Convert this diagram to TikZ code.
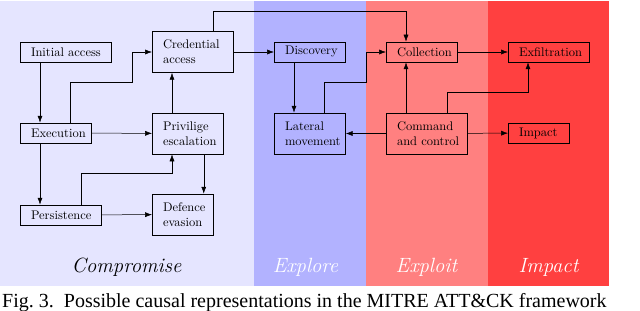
\documentclass[tikz,border=0pt]{standalone}
\usepackage{fontspec}
\newfontfamily\capfont{Liberation Serif}
\usetikzlibrary{arrows.meta,positioning,calc}

\begin{document}
\begin{tikzpicture}[x=0.8pt,y=-0.8pt,>={Latex[length=5.5pt,width=4pt]}, every node/.style={font=\normalsize}]
\tikzstyle{box}=[draw,line width=0.6pt,align=left,anchor=west,inner xsep=8.5pt,inner ysep=3pt,minimum height=16pt,execute at begin node={\hyphenpenalty=10000}]
\tikzstyle{tall}=[box,minimum height=32.8pt]
\tikzstyle{phase}=[font=\fontsize{16.5}{20}\selectfont\itshape,anchor=base]
\useasboundingbox (0,0) rectangle (640,311);
% phase backgrounds
\fill[blue!10] (0,1.5) rectangle (254,286);
\fill[blue!30] (254,1.5) rectangle (366,286);
\fill[red!50] (366,1.5) rectangle (488,286);
\fill[red!75] (488,1.5) rectangle (609,286);
% compromise
\node[box,text width=55.8pt] (init) at (20,52) {Initial~access};
\node[box,text width=39.8pt] (exec) at (20,133) {Execution};
\node[box,text width=47.8pt] (pers) at (20,215) {Persistence};
\node[tall,text width=47.8pt] (cred) at (152,52) {Credential\\access};
\node[tall,text width=39.8pt] (priv) at (152,133.5) {Privilige\\escalation};
\node[tall,text width=31.8pt] (def) at (152,214.5) {Defence\\evasion};
% explore
\node[box,text width=39.8pt] (disc) at (274,52) {Discovery};
\node[tall,text width=39.8pt] (lat) at (274,133.5) {Lateral\\movement};
% exploit
\node[box,text width=39.8pt] (coll) at (386,52) {Collection};
\node[tall,text width=47.8pt] (cc) at (386,133.5) {Command\\and~control};
% impact
\node[box,text width=47.8pt] (exfil) at (508,52) {Exfiltration};
\node[box,text width=31.8pt] (imp) at (508,133) {Impact};
% phase labels
\node[phase] (lcomp) at (126.5,272) {Compromise};
\node[phase,white] (lexpl) at (305.5,272) {Explore};
\node[phase,white] (lexpt) at (426.5,272) {Exploit};
\node[phase,white] (limp) at (548.5,272) {Impact};
% arrows
\draw[->] ([xshift=16pt]init.south west) -- ([xshift=16pt]exec.north west);
\draw[->] ([xshift=16pt]exec.south west) -- ([xshift=16pt]pers.north west);
\draw[->] (exec) -- (priv);
\draw[->] ([xshift=40pt]exec.north west) -- ++(0,-40) -| ([xshift=-16pt]cred.west) -- (cred);
\draw[->] ([xshift=48.8pt]pers.north west) -- ++(0,-31) -| ([xshift=16pt]priv.south west);
\draw[->] (pers) -- (def);
\draw[->] ([xshift=-16pt]priv.south east) -- ([xshift=-16pt]priv.south east |- def.north);
\draw[->] ([xshift=16pt]priv.north west) -- ([xshift=16pt]cred.south west);
\draw[->] (cred) -- (disc);
\draw[->] ([xshift=48.8pt]cred.north west) -- ++(0,-20) -| ([xshift=16pt]coll.north west);
\draw[->] ([xshift=16pt]disc.south west) -- ([xshift=16pt]lat.north west);
\draw[->] ([xshift=40pt]lat.north west) -- ++(0,-30) -| ([xshift=-16pt]coll.west) -- (coll);
\draw[->] (cc) -- (lat);
\draw[->] ([xshift=16pt]cc.north west) -- ([xshift=16pt]coll.south west);
\draw[->] ([xshift=48.8pt]cc.north west) -- ++(0,-20) -| ([xshift=16pt]exfil.south west);
\draw[->] (cc) -- (imp);
\draw[->] (coll) -- (exfil);
% caption
\node[font=\capfont\fontsize{16}{18}\selectfont,anchor=base west,inner sep=0pt] (cap) at (2,307) {Fig.~3.\enskip Possible causal representations in the MITRE ATT\&CK framework};
\end{tikzpicture}
\end{document}
